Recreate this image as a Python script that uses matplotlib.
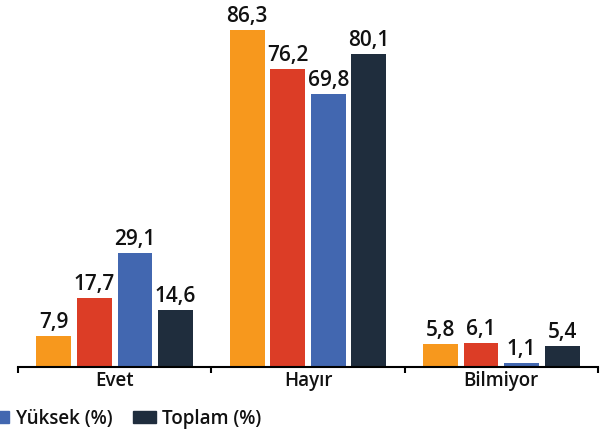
import numpy as np
import matplotlib.pyplot as plt
from matplotlib.patches import Patch

categories = ["Evet", "Hayır", "Bilmiyor"]
series_colors = ["#F7981D", "#DC3D26", "#4267B0", "#1F2D3D"]
values = [
    [7.9, 86.3, 5.8],
    [17.7, 76.2, 6.1],
    [29.1, 69.8, 1.1],
    [14.6, 80.1, 5.4],
]
legend_labels = ["Yüksek (%)", "Toplam (%)"]

plt.rcParams["font.family"] = ["Open Sans", "DejaVu Sans"]

fig = plt.figure(figsize=(6.01, 4.33), dpi=100)
ax = fig.add_axes([18 / 601, (433 - 367) / 433, 580 / 601, 367 / 433])

x = np.arange(len(categories))
slot = 0.21
width = 0.18
for i, (vals, c) in enumerate(zip(values, series_colors)):
    pos = x + (i - 1.5) * slot
    ax.bar(pos, vals, width=width, color=c)
    for p, v in zip(pos, vals):
        ax.text(p, v + 0.8, f"{v:.1f}".replace(".", ","), ha="center", va="bottom",
                fontsize=15, fontweight="semibold", color="#111111")

ax.set_xlim(-0.5, 2.5)
ax.set_ylim(0, 94)
ax.set_yticks([])
for s in ["top", "right", "left"]:
    ax.spines[s].set_visible(False)
ax.spines["bottom"].set_linewidth(1.5)
ax.set_xticks([-0.5, 0.5, 1.5, 2.5])
ax.set_xticklabels([])
ax.tick_params(axis="x", length=4, width=1.5, direction="out")
ax.set_xticks(x, minor=True)
ax.set_xticklabels(categories, minor=True, fontsize=13.5, fontweight="semibold",
                   color="#111111")
ax.tick_params(axis="x", which="minor", length=0, pad=3)

handles = [Patch(color=series_colors[2]), Patch(color=series_colors[3])]
leg = fig.legend(handles, legend_labels, loc="center left", bbox_to_anchor=(-0.05, 0.033),
                 ncol=2, frameon=False, handlelength=1.2, handleheight=0.6,
                 columnspacing=1.1, handletextpad=0.35,
                 prop={"size": 13.5, "weight": "semibold"})
for t in leg.get_texts():
    t.set_color("#111111")

fig.savefig("out.png", dpi=100)
